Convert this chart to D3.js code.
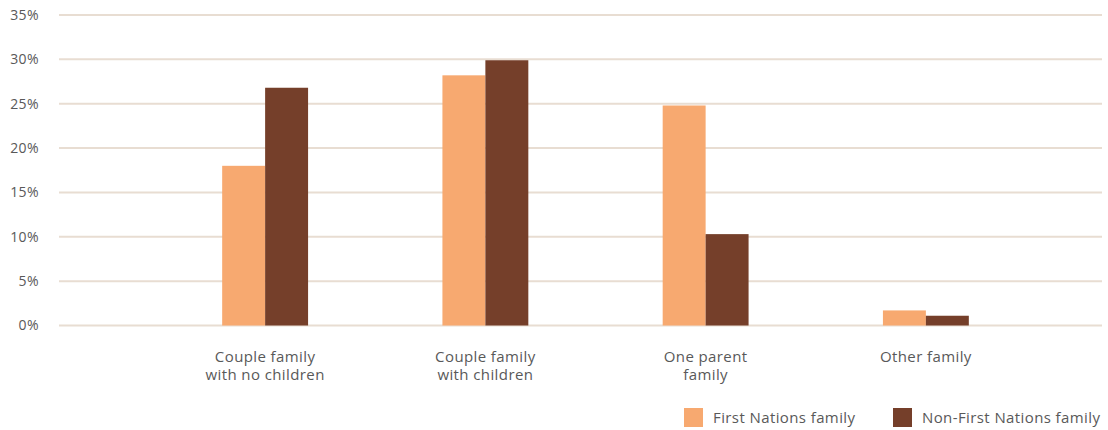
<!DOCTYPE html>
<html>
<head>
<meta charset="utf-8">
<script src="https://cdn.jsdelivr.net/npm/d3@7"></script>
<style>
  html, body { margin: 0; padding: 0; background: #ffffff; }
  svg text { font-family: "Open Sans", "Noto Sans", sans-serif; fill: #595959; }
</style>
</head>
<body>
<svg id="chart" width="1108" height="430"></svg>
<script>
// Family type shares, by household group
const categories = [
  ["Couple family", "with no children"],
  ["Couple family", "with children"],
  ["One parent", "family"],
  ["Other family"]
];
const seriesNames = ["First Nations family", "Non-First Nations family"];
const firstNations = [18.0, 28.2, 24.8, 1.7];
const nonFirstNations = [26.8, 29.9, 10.3, 1.1];
const yTicks = [0, 5, 10, 15, 20, 25, 30, 35];
const colors = ["#F7A970", "#753F2A"];

const svg = d3.select("#chart");
const catKeys = categories.map(c => c.join(" "));

const x0 = d3.scaleBand()
  .domain(catKeys)
  .range([155, 1036])
  .paddingInner(0.61)
  .paddingOuter(0.305);

const x1 = d3.scaleBand()
  .domain(seriesNames)
  .range([0, x0.bandwidth()]);

const y = d3.scaleLinear().domain([0, 35]).range([325.5, 15]);

// Horizontal gridlines
svg.append("g")
  .selectAll("line")
  .data(yTicks)
  .join("line")
  .attr("x1", 59)
  .attr("x2", 1102)
  .attr("y1", d => y(d))
  .attr("y2", d => y(d))
  .attr("stroke", "#E8DDD2")
  .attr("stroke-width", 2);

// Y axis labels
const yAxis = d3.axisLeft(y).tickValues(yTicks).tickFormat(d => d + "%").tickSize(0).tickPadding(0);
const yg = svg.append("g").attr("transform", "translate(39,0)").call(yAxis);
yg.select(".domain").remove();
yg.selectAll("text")
  .attr("font-size", 14)
  .attr("letter-spacing", 0.4)
  .attr("fill", null);
yg.attr("font-family", null).attr("font-size", null);

// Bars
const rows = catKeys.map((k, i) => ({ key: k, values: [firstNations[i], nonFirstNations[i]] }));
const groups = svg.append("g")
  .selectAll("g")
  .data(rows)
  .join("g")
  .attr("transform", d => `translate(${x0(d.key)},0)`);

groups.selectAll("rect")
  .data(d => d.values.map((v, j) => ({ name: seriesNames[j], value: v, j })))
  .join("rect")
  .attr("x", d => x1(d.name))
  .attr("width", x1.bandwidth())
  .attr("y", d => y(d.value))
  .attr("height", d => y(0) - y(d.value))
  .attr("fill", d => colors[d.j]);

// Category labels
const xl = svg.append("g")
  .selectAll("text")
  .data(categories)
  .join("text")
  .attr("x", (d, i) => x0(catKeys[i]) + x0.bandwidth() / 2)
  .attr("y", 362)
  .attr("text-anchor", "middle")
  .attr("font-size", 15)
  .attr("letter-spacing", 0.4);
xl.selectAll("tspan")
  .data(d => d)
  .join("tspan")
  .attr("x", function() { return d3.select(this.parentNode).attr("x"); })
  .attr("dy", (d, i) => i === 0 ? 0 : 18)
  .text(d => d);

// Legend
const legend = svg.append("g");
const legendX = [684, 893];
seriesNames.forEach((name, i) => {
  legend.append("rect")
    .attr("x", legendX[i]).attr("y", 408)
    .attr("width", 19).attr("height", 19)
    .attr("fill", colors[i]);
  legend.append("text")
    .attr("x", legendX[i] + 29).attr("y", 423)
    .attr("font-size", 15)
    .attr("letter-spacing", 0.4)
    .text(name);
});
</script>
</body>
</html>
